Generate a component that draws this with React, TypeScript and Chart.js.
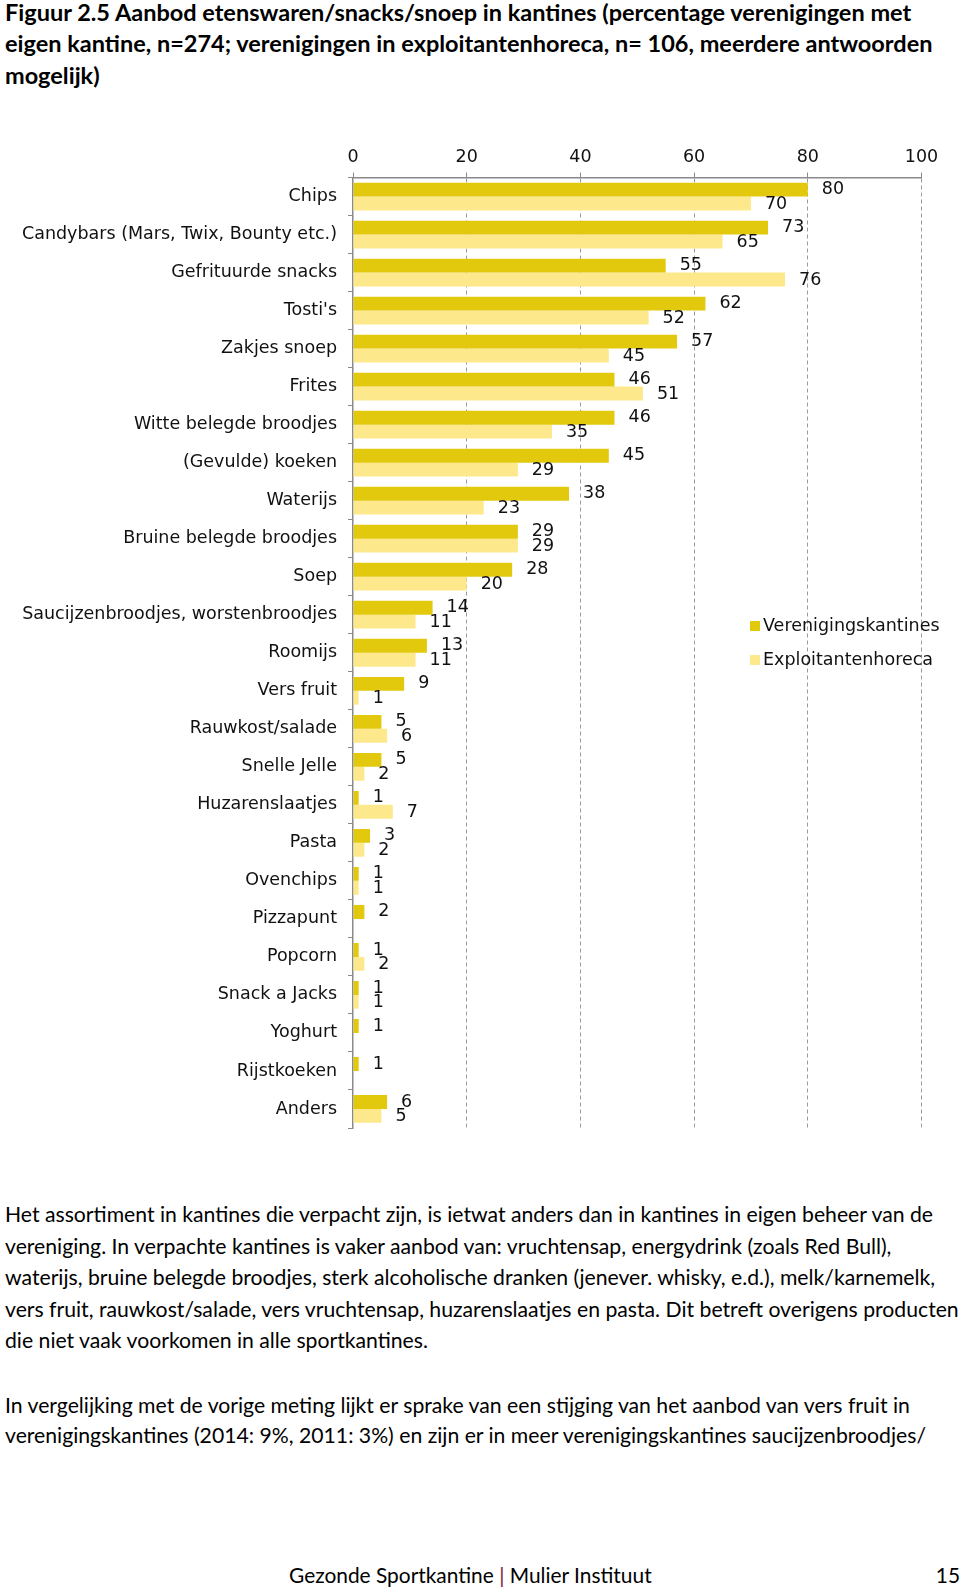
import React, { useEffect, useRef } from "react";
import { Chart, registerables } from "chart.js";

Chart.register(...registerables);

const categories = [
  "Chips",
  "Candybars (Mars, Twix, Bounty etc.)",
  "Gefrituurde snacks",
  "Tosti's",
  "Zakjes snoep",
  "Frites",
  "Witte belegde broodjes",
  "(Gevulde) koeken",
  "Waterijs",
  "Bruine belegde broodjes",
  "Soep",
  "Saucijzenbroodjes, worstenbroodjes",
  "Roomijs",
  "Vers fruit",
  "Rauwkost/salade",
  "Snelle Jelle",
  "Huzarenslaatjes",
  "Pasta",
  "Ovenchips",
  "Pizzapunt",
  "Popcorn",
  "Snack a Jacks",
  "Yoghurt",
  "Rijstkoeken",
  "Anders",
];

const verenigingskantines = [80, 73, 55, 62, 57, 46, 46, 45, 38, 29, 28, 14, 13, 9, 5, 5, 1, 3, 1, 2, 1, 1, 1, 1, 6];
const exploitantenhoreca = [70, 65, 76, 52, 45, 51, 35, 29, 23, 29, 20, 11, 11, 1, 6, 2, 7, 2, 1, null, 2, 1, null, null, 5];

const seriesNames = ["Verenigingskantines", "Exploitantenhoreca"];
const seriesColors = ["#e2c90e", "#fde98c"];
const xTicks = [0, 20, 40, 60, 80, 100];

const titleLines = [
  "Figuur 2.5 Aanbod etenswaren/snacks/snoep in kantines (percentage verenigingen met",
  "eigen kantine, n=274; verenigingen in exploitantenhoreca, n= 106, meerdere antwoorden",
  "mogelijk)",
];

const para1 = [
  "Het assortiment in kantines die verpacht zijn, is ietwat anders dan in kantines in eigen beheer van de",
  "vereniging. In verpachte kantines is vaker aanbod van: vruchtensap, energydrink (zoals Red Bull),",
  "waterijs, bruine belegde broodjes, sterk alcoholische dranken (jenever. whisky, e.d.), melk/karnemelk,",
  "vers fruit, rauwkost/salade, vers vruchtensap, huzarenslaatjes en pasta. Dit betreft overigens producten",
  "die niet vaak voorkomen in alle sportkantines.",
];

const para2 = [
  "In vergelijking met de vorige meting lijkt er sprake van een stijging van het aanbod van vers fruit in",
  "verenigingskantines (2014: 9%, 2011: 3%) en zijn er in meer verenigingskantines saucijzenbroodjes/",
];

const CHART_FONT = "'DejaVu Sans', sans-serif";
const TEXT_FONT = "Lato, 'Open Sans', sans-serif";
const CANVAS_TOP = 120;
const CHART_FONT_SIZE = 17.5;

const barLabelPlugin = {
  id: "barLabels",
  afterDatasetsDraw(chart: any) {
    const ctx = chart.ctx;
    ctx.save();
    ctx.font = `${CHART_FONT_SIZE}px ${CHART_FONT}`;
    ctx.fillStyle = "#111";
    ctx.textBaseline = "middle";
    ctx.textAlign = "left";
    chart.data.datasets.forEach((ds: any, di: number) => {
      const meta = chart.getDatasetMeta(di);
      meta.data.forEach((el: any, i: number) => {
        const v = ds.data[i];
        if (v === null || v === undefined) return;
        ctx.fillText(String(v), el.x + 14, el.y + (di === 0 ? 0 : 1));
      });
    });
    ctx.restore();
  },
};

const legendPlugin = {
  id: "sideLegend",
  afterDraw(chart: any) {
    const ctx = chart.ctx;
    ctx.save();
    ctx.font = `${CHART_FONT_SIZE}px ${CHART_FONT}`;
    ctx.textBaseline = "middle";
    ctx.textAlign = "left";
    const ys = [626 - CANVAS_TOP, 660 - CANVAS_TOP];
    seriesNames.forEach((name, i) => {
      ctx.fillStyle = seriesColors[i];
      ctx.fillRect(750, ys[i] - 5, 10, 10);
      ctx.fillStyle = "#111";
      ctx.fillText(name, 763, ys[i]);
    });
    ctx.restore();
  },
};

function BarChart() {
  const ref = useRef<HTMLCanvasElement | null>(null);
  useEffect(() => {
    if (!ref.current) return;
    const chart = new Chart(ref.current, {
      type: "bar",
      data: {
        labels: categories,
        datasets: [
          {
            label: seriesNames[0],
            data: verenigingskantines,
            backgroundColor: seriesColors[0],
            barPercentage: 1,
            categoryPercentage: 0.73,
          },
          {
            label: seriesNames[1],
            data: exploitantenhoreca as any,
            backgroundColor: seriesColors[1],
            barPercentage: 1,
            categoryPercentage: 0.73,
          },
        ],
      },
      options: {
        indexAxis: "y",
        animation: false,
        responsive: false,
        maintainAspectRatio: false,
        layout: { padding: { left: 0, top: 0, right: 38.5, bottom: 12 } },
        plugins: {
          legend: { display: false },
          tooltip: { enabled: false },
        },
        scales: {
          x: {
            position: "top",
            min: 0,
            max: 100,
            afterBuildTicks: (scale: any) => {
              scale.ticks = xTicks.map((v) => ({ value: v }));
            },
            ticks: {
              font: { family: CHART_FONT, size: CHART_FONT_SIZE },
              color: "#111",
              padding: 5,
            },
            grid: {
              color: (c: any) => (c.tick && c.tick.value === 0 ? "rgba(0,0,0,0)" : "#9a9a9a"),
              tickColor: "#8a8a8a",
              tickLength: 5,
              lineWidth: 1,
            },
            border: { color: "#8a8a8a", width: 1.5, dash: [4, 3] },
            afterFit: (scale: any) => {
              scale.height = 57.5;
              scale.paddingLeft = 0;
              scale.paddingRight = 0;
            },
          },
          y: {
            ticks: {
              font: { family: CHART_FONT, size: CHART_FONT_SIZE },
              color: "#111",
              padding: 11,
              autoSkip: false,
            },
            grid: {
              offset: true,
              drawOnChartArea: false,
              tickLength: 5,
              color: "#8a8a8a",
              tickColor: "#8a8a8a",
            },
            border: { color: "#8a8a8a", width: 1.5 },
            afterFit: (scale: any) => {
              scale.width = 353;
              scale.paddingTop = 0;
              scale.paddingBottom = 0;
            },
          },
        },
      },
      plugins: [barLabelPlugin, legendPlugin],
    } as any);
    return () => chart.destroy();
  }, []);
  return (
    <canvas
      ref={ref}
      width={960}
      height={1020}
      style={{ position: "absolute", left: 0, top: CANVAS_TOP, width: 960, height: 1020 }}
    />
  );
}

function Line({ text, baseline, size, bold }: { text: string; baseline: number; size: number; bold?: boolean }) {
  return (
    <div
      style={{
        position: "absolute",
        left: 5,
        top: baseline - size * 1.0,
        fontFamily: TEXT_FONT,
        fontSize: size,
        fontWeight: bold ? 700 : 400,
        lineHeight: `${size * 1.2}px`,
        whiteSpace: "nowrap",
        color: "#000",
      }}
    >
      {text}
    </div>
  );
}

export default function App() {
  return (
    <div
      style={{
        position: "absolute",
        left: 0,
        top: 0,
        width: 960,
        height: 1588,
        background: "#fff",
        overflow: "hidden",
      }}
    >
      {titleLines.map((t, i) => (
        <Line key={"t" + i} text={t} baseline={21 + i * 31.5} size={23.5} bold />
      ))}
      <BarChart />
      {para1.map((t, i) => (
        <Line key={"p1" + i} text={t} baseline={1223.5 + i * 31.5} size={21.2} />
      ))}
      {para2.map((t, i) => (
        <Line key={"p2" + i} text={t} baseline={1414 + i * 30.5} size={21.2} />
      ))}
      <div
        style={{
          position: "absolute",
          left: 289,
          top: 1583 - 20.9,
          fontFamily: TEXT_FONT,
          fontSize: 20.9,
          lineHeight: "25px",
          whiteSpace: "nowrap",
          color: "#000",
        }}
      >
        Gezonde Sportkantine <span style={{ color: "#7a1535" }}>|</span> Mulier Instituut
      </div>
      <div
        style={{
          position: "absolute",
          right: 0,
          top: 1583 - 20.9,
          fontFamily: TEXT_FONT,
          fontSize: 20.9,
          lineHeight: "25px",
          whiteSpace: "nowrap",
          color: "#000",
        }}
      >
        15
      </div>
    </div>
  );
}
